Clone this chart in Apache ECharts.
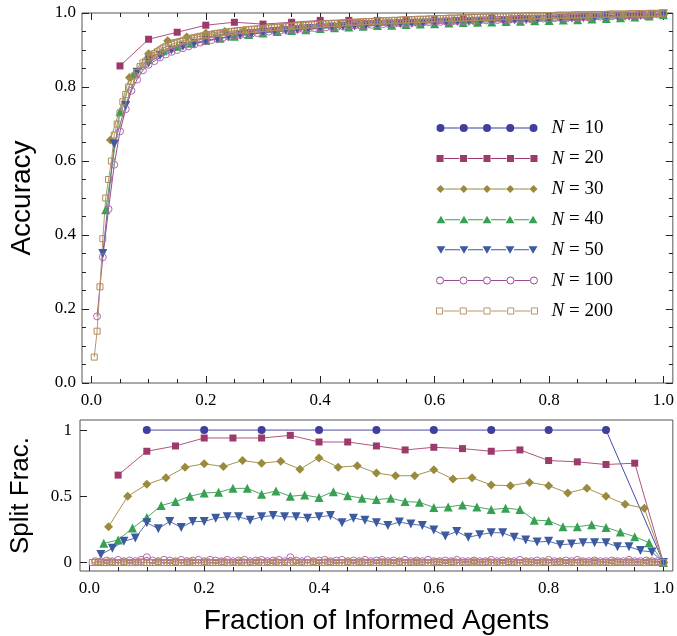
<!DOCTYPE html>
<html>
<head>
<meta charset="utf-8">
<script src="https://cdn.jsdelivr.net/npm/echarts@6/dist/echarts.min.js"></script>
<style>
html, body { margin: 0; padding: 0; background: #fff; }
#chart { width: 677px; height: 636px; }
</style>
</head>
<body>
<div id="chart"></div>
<script>
// group sizes, one series per N, x = k / N
const sizes = [10, 20, 30, 40, 50, 100, 200];
const names = ['N = 10', 'N = 20', 'N = 30', 'N = 40', 'N = 50', 'N = 100', 'N = 200'];

const xLabels = [0, 0.2, 0.4, 0.6, 0.8, 1];
const xMinor = [0, 0.05, 0.1, 0.15, 0.2, 0.25, 0.3, 0.35, 0.4, 0.45, 0.5, 0.55, 0.6, 0.65, 0.7, 0.75, 0.8, 0.85, 0.9, 0.95, 1];
const splitLabels = [0, 0.5, 1];

// accuracy (top panel)
const acc10 = [0.88, 0.935, 0.955, 0.966, 0.975, 0.98, 0.985, 0.99, 0.993, 0.997];
const acc20 = [0.857, 0.929, 0.948, 0.967, 0.975, 0.97, 0.975, 0.98, 0.98, 0.98, 0.981, 0.982, 0.984, 0.985, 0.986, 0.985, 0.988, 0.99, 0.993, 0.997];
const acc30 = [0.657, 0.826, 0.89, 0.925, 0.935, 0.945, 0.95, 0.953, 0.957, 0.96,
  0.962, 0.966, 0.968, 0.97, 0.972, 0.974, 0.975, 0.977, 0.979, 0.98,
  0.982, 0.983, 0.984, 0.986, 0.987, 0.989, 0.99, 0.992, 0.994, 0.997];
const acc40 = [0.468, 0.733, 0.837, 0.875, 0.898, 0.91, 0.918, 0.926, 0.932, 0.937,
  0.942, 0.946, 0.95, 0.953, 0.955, 0.958, 0.96, 0.962, 0.964, 0.966,
  0.967, 0.969, 0.97, 0.971, 0.973, 0.974, 0.975, 0.976, 0.977, 0.978,
  0.979, 0.98, 0.981, 0.982, 0.984, 0.985, 0.987, 0.989, 0.992, 0.995];
const acc50 = [0.35, 0.646, 0.75, 0.84, 0.865, 0.885, 0.9, 0.91, 0.918, 0.925,
  0.93, 0.935, 0.94, 0.943, 0.947, 0.95, 0.953, 0.955, 0.958, 0.96,
  0.962, 0.964, 0.965, 0.967, 0.968, 0.97, 0.971, 0.972, 0.973, 0.975,
  0.976, 0.977, 0.977, 0.978, 0.979, 0.98, 0.981, 0.982, 0.983, 0.984,
  0.985, 0.986, 0.987, 0.988, 0.989, 0.99, 0.991, 0.993, 0.995, 0.997];
const acc100 = [0.18, 0.34, 0.47, 0.59, 0.68, 0.74, 0.79, 0.82, 0.845, 0.86,
  0.87, 0.88, 0.888, 0.895, 0.9, 0.905, 0.91, 0.915, 0.92, 0.924,
  0.927, 0.93, 0.933, 0.936, 0.938, 0.94, 0.942, 0.944, 0.946, 0.948,
  0.95, 0.951, 0.952, 0.954, 0.955, 0.956, 0.957, 0.958, 0.959, 0.96,
  0.961, 0.962, 0.963, 0.964, 0.965, 0.966, 0.966, 0.967, 0.968, 0.969,
  0.97, 0.97, 0.971, 0.972, 0.972, 0.973, 0.974, 0.974, 0.975, 0.976,
  0.976, 0.977, 0.977, 0.978, 0.978, 0.979, 0.979, 0.98, 0.98, 0.981,
  0.981, 0.982, 0.982, 0.983, 0.983, 0.984, 0.984, 0.985, 0.985, 0.986,
  0.986, 0.987, 0.987, 0.988, 0.988, 0.989, 0.989, 0.99, 0.99, 0.991,
  0.991, 0.992, 0.992, 0.993, 0.993, 0.994, 0.994, 0.995, 0.996, 0.997];
const acc200 = [0.07, 0.14, 0.26, 0.39, 0.5, 0.55, 0.6, 0.67, 0.7, 0.73,
  0.76, 0.78, 0.8, 0.815, 0.83, 0.84, 0.855, 0.865, 0.87, 0.88,
  0.885, 0.89, 0.895, 0.9, 0.905, 0.908, 0.912, 0.915, 0.918, 0.92,
  0.923, 0.925, 0.927, 0.93, 0.932, 0.934, 0.935, 0.937, 0.938, 0.94,
  0.941, 0.942, 0.944, 0.945, 0.946, 0.947, 0.948, 0.949, 0.95, 0.951,
  0.952, 0.953, 0.953, 0.954, 0.955, 0.956, 0.956, 0.957, 0.958, 0.958,
  0.959, 0.96, 0.96, 0.961, 0.962, 0.962, 0.963, 0.963, 0.964, 0.965,
  0.965, 0.966, 0.966, 0.967, 0.967, 0.968, 0.968, 0.969, 0.969, 0.97,
  0.97, 0.971, 0.971, 0.972, 0.972, 0.972, 0.973, 0.973, 0.974, 0.974,
  0.975, 0.975, 0.975, 0.976, 0.976, 0.977, 0.977, 0.977, 0.978, 0.978,
  0.978, 0.979, 0.979, 0.979, 0.98, 0.98, 0.98, 0.981, 0.981, 0.981,
  0.982, 0.982, 0.982, 0.983, 0.983, 0.983, 0.983, 0.984, 0.984, 0.984,
  0.985, 0.985, 0.985, 0.985, 0.986, 0.986, 0.986, 0.986, 0.987, 0.987,
  0.987, 0.987, 0.988, 0.988, 0.988, 0.988, 0.989, 0.989, 0.989, 0.989,
  0.989, 0.99, 0.99, 0.99, 0.99, 0.99, 0.991, 0.991, 0.991, 0.991,
  0.991, 0.992, 0.992, 0.992, 0.992, 0.992, 0.993, 0.993, 0.993, 0.993,
  0.993, 0.993, 0.994, 0.994, 0.994, 0.994, 0.994, 0.994, 0.995, 0.995,
  0.995, 0.995, 0.995, 0.995, 0.996, 0.996, 0.996, 0.996, 0.996, 0.996,
  0.997, 0.997, 0.997, 0.997, 0.997, 0.997, 0.997, 0.998, 0.998, 0.998,
  0.998, 0.998, 0.998, 0.998, 0.999, 0.999, 0.999, 0.999, 0.999, 1.0];

// split fraction (bottom panel)
const split10 = [1, 1, 1, 1, 1, 1, 1, 1, 1, 0];
const split20 = [0.66, 0.84, 0.88, 0.94, 0.94, 0.94, 0.96, 0.91, 0.91, 0.88, 0.85, 0.87, 0.86, 0.84, 0.85, 0.77, 0.76, 0.74, 0.75, 0];
const split30 = [0.27, 0.5, 0.59, 0.64, 0.72, 0.745, 0.725, 0.77, 0.75, 0.765,
  0.705, 0.79, 0.72, 0.73, 0.675, 0.655, 0.655, 0.7, 0.63, 0.64,
  0.585, 0.58, 0.605, 0.58, 0.525, 0.56, 0.5, 0.44, 0.41, 0];
const split40 = [0.145, 0.17, 0.26, 0.34, 0.43, 0.46, 0.5, 0.525, 0.53, 0.56,
  0.56, 0.515, 0.54, 0.5, 0.51, 0.49, 0.535, 0.505, 0.485, 0.475,
  0.485, 0.46, 0.455, 0.415, 0.42, 0.435, 0.42, 0.4, 0.41, 0.4,
  0.32, 0.315, 0.27, 0.27, 0.285, 0.265, 0.23, 0.195, 0.15, 0];
const split50 = [0.06, 0.107, 0.16, 0.185, 0.3, 0.255, 0.31, 0.265, 0.31, 0.31,
  0.335, 0.345, 0.345, 0.32, 0.345, 0.355, 0.345, 0.345, 0.335, 0.345,
  0.355, 0.3, 0.335, 0.32, 0.3, 0.28, 0.305, 0.29, 0.28, 0.245,
  0.2, 0.235, 0.19, 0.21, 0.225, 0.225, 0.19, 0.17, 0.155, 0.16,
  0.135, 0.14, 0.15, 0.15, 0.15, 0.12, 0.12, 0.09, 0.08, 0];
const split100 = [0.01, 0.01, 0.015, 0.01, 0.02, 0.01, 0.015, 0.01, 0.02, 0.04,
  0.015, 0.01, 0.02, 0.015, 0.01, 0.02, 0.01, 0.015, 0.02, 0.01,
  0.02, 0.015, 0.01, 0.02, 0.01, 0.015, 0.02, 0.01, 0.015, 0.02,
  0.01, 0.015, 0.02, 0.01, 0.04, 0.015, 0.01, 0.02, 0.01, 0.015,
  0.02, 0.01, 0.015, 0.02, 0.01, 0.015, 0.01, 0.02, 0.01, 0.015,
  0.02, 0.01, 0.015, 0.01, 0.02, 0.01, 0.015, 0.01, 0.02, 0.01,
  0.01, 0.015, 0.01, 0.02, 0.01, 0.01, 0.015, 0.01, 0.01, 0.02,
  0.01, 0.015, 0.01, 0.01, 0.02, 0.01, 0.01, 0.015, 0.01, 0.02,
  0.01, 0.01, 0.015, 0.01, 0.02, 0.01, 0.01, 0.015, 0.01, 0.01,
  0.015, 0.01, 0.01, 0.02, 0.01, 0.01, 0.015, 0.01, 0.01, 0];
const split200 = [0, 0, 0.005, 0, 0, 0, 0.005, 0, 0, 0,
  0, 0.005, 0, 0, 0, 0, 0, 0.005, 0, 0,
  0, 0, 0, 0.005, 0, 0, 0, 0, 0, 0.005,
  0, 0, 0, 0, 0.005, 0, 0, 0, 0, 0,
  0.005, 0, 0, 0, 0, 0, 0.005, 0, 0, 0,
  0, 0, 0.005, 0, 0, 0, 0, 0, 0.005, 0,
  0, 0, 0, 0, 0.005, 0, 0, 0, 0, 0,
  0.005, 0, 0, 0, 0, 0, 0, 0.005, 0, 0,
  0, 0, 0.005, 0, 0, 0, 0, 0, 0, 0.005,
  0, 0, 0, 0, 0.005, 0, 0, 0, 0, 0,
  0, 0.005, 0, 0, 0, 0, 0, 0.005, 0, 0,
  0, 0, 0, 0.005, 0, 0, 0, 0, 0, 0,
  0.005, 0, 0, 0, 0, 0, 0.005, 0, 0, 0,
  0, 0, 0, 0.005, 0, 0, 0, 0, 0.005, 0,
  0, 0, 0, 0, 0, 0.005, 0, 0, 0, 0,
  0, 0.005, 0, 0, 0, 0, 0, 0, 0.005, 0,
  0, 0, 0, 0.005, 0, 0, 0, 0, 0, 0,
  0.005, 0, 0, 0, 0, 0.005, 0, 0, 0, 0,
  0, 0, 0.005, 0, 0, 0, 0, 0.005, 0, 0,
  0, 0, 0, 0, 0.005, 0, 0, 0, 0, 0];

const accuracy = [acc10, acc20, acc30, acc40, acc50, acc100, acc200];
const split = [split10, split20, split30, split40, split50, split100, split200];

const colors = ['#3f3f9e', '#9b3a6b', '#9a8a3c', '#38a052', '#3d5aa0', '#b366b0', '#b08b5c'];
const lineColors = ['#4a4aa8', '#b0557f', '#a4954c', '#4aa862', '#5570ac', '#9a4a95', '#b8956a'];
const symbols = ['circle', 'rect', 'diamond', 'triangle', 'triangle', 'circle', 'rect'];
const symbolRot = [0, 0, 0, 0, 180, 0, 0];
const symbolSizes = [8, 7, 9, 9, 9, 7, 6];
const hollow = [false, false, false, false, false, true, true];
const markerKind = ['circle', 'rect', 'diamond', 'up', 'down', 'circle', 'rect'];

const serif = 'Liberation Serif';
const sans = 'Liberation Sans';
const xRange = [-0.0164, 1.0164];

function pairs(n, vals) {
    return vals.map((v, i) => [(i + 1) / n, v]);
}

// legend icon: line with five markers
const centers = [4, 27.25, 50.5, 73.75, 97];
function shape(kind, c, h) {
    if (kind === 'circle') {
        const r = h ? 3.5 : 4;
        return 'M' + (c - r) + ' 5A' + r + ' ' + r + ' 0 1 1 ' + (c + r) + ' 5A' + r + ' ' + r + ' 0 1 1 ' + (c - r) + ' 5Z';
    }
    if (kind === 'rect') {
        const s = h ? 3 : 3.5;
        return 'M' + (c - s) + ' ' + (5 - s) + 'H' + (c + s) + 'V' + (5 + s) + 'H' + (c - s) + 'Z';
    }
    if (kind === 'diamond') return 'M' + c + ' 1L' + (c + 4) + ' 5L' + c + ' 9L' + (c - 4) + ' 5Z';
    if (kind === 'up') return 'M' + c + ' 1L' + (c + 4.5) + ' 8.5H' + (c - 4.5) + 'Z';
    return 'M' + (c - 4.5) + ' 1.5H' + (c + 4.5) + 'L' + c + ' 9Z';
}
function iconPath(kind, h) {
    let p = '';
    for (let i = 0; i < 4; i++) {
        const a = centers[i] + 4, b = centers[i + 1] - 4;
        p += h ? 'M' + a + ' 5L' + b + ' 5' : 'M' + a + ' 4.5H' + b + 'V5.5H' + a + 'Z';
    }
    centers.forEach(c => { p += shape(kind, c, h); });
    return 'path://' + p;
}

function xAx(grid, pos, ticks, len, labels, extra) {
    return Object.assign({
        type: 'value', gridIndex: grid, position: pos,
        min: xRange[0], max: xRange[1],
        axisLine: { show: false, onZero: false },
        splitLine: { show: false },
        axisTick: { show: true, inside: true, length: len, customValues: ticks, lineStyle: { color: '#222' } },
        axisLabel: labels ? {
            show: true, customValues: xLabels, formatter: v => v.toFixed(1),
            margin: 9, fontFamily: serif, fontSize: 17, color: '#000'
        } : { show: false }
    }, extra || {});
}

function makeSeries(i, vals, bottom) {
    return {
        type: 'line', name: names[i],
        data: pairs(sizes[i], vals),
        xAxisIndex: bottom ? 4 : 0, yAxisIndex: bottom ? 2 : 0,
        symbol: symbols[i], symbolSize: symbolSizes[i], symbolRotate: symbolRot[i],
        showAllSymbol: true,
        itemStyle: hollow[i]
            ? { color: 'rgba(0,0,0,0)', borderColor: colors[i], borderWidth: 1 }
            : { color: colors[i] },
        lineStyle: { color: lineColors[i], width: 1 },
        emphasis: { disabled: true },
        silent: true
    };
}

const chart = echarts.init(document.getElementById('chart'));
const series = [];
accuracy.forEach((vals, i) => series.push(makeSeries(i, vals, false)));
split.forEach((vals, i) => series.push(makeSeries(i, vals, true)));

const option = {
    animation: false,
    backgroundColor: '#fff',
    grid: [
        { left: 77, top: 13, width: 598, height: 370, show: true, borderColor: '#555', borderWidth: 1, backgroundColor: 'transparent' },
        { left: 77, top: 420, width: 598, height: 151, show: true, borderColor: '#555', borderWidth: 1, backgroundColor: 'transparent' }
    ],
    legend: {
        orient: 'vertical', left: 429, top: 113,
        itemWidth: 101, itemHeight: 10, itemGap: 10.5,
        selectedMode: false,
        data: names.map((nm, i) => ({
            name: nm,
            icon: iconPath(markerKind[i], hollow[i]),
            itemStyle: hollow[i]
                ? { color: 'none', borderColor: lineColors[i], borderWidth: 1 }
                : { color: colors[i], borderWidth: 0 }
        })),
        formatter: nm => '{i|N}' + nm.slice(1),
        textStyle: {
            fontFamily: serif, fontSize: 19, color: '#000', lineHeight: 20,
            padding: [0, 0, 0, 9],
            rich: { i: { fontFamily: serif, fontSize: 19, fontStyle: 'italic', lineHeight: 20 } }
        }
    },
    xAxis: [
        xAx(0, 'bottom', xLabels, 7, true),
        xAx(0, 'bottom', xMinor, 4, false),
        xAx(0, 'top', xLabels, 7, false),
        xAx(0, 'top', xMinor, 4, false),
        xAx(1, 'bottom', xLabels, 7, true, {
            name: 'Fraction of Informed Agents', nameLocation: 'middle', nameGap: 36,
            nameTextStyle: { fontFamily: sans, fontSize: 28, color: '#000' }
        }),
        xAx(1, 'bottom', xMinor, 4, false)
    ],
    yAxis: [
        {
            type: 'value', gridIndex: 0, position: 'left', min: 0, max: 1, interval: 0.2,
            axisLine: { show: false, onZero: false },
            splitLine: { show: false },
            axisTick: { inside: true, length: 7, lineStyle: { color: '#222' } },
            minorTick: { show: true, splitNumber: 4, length: 4, lineStyle: { color: '#222' } },
            axisLabel: { formatter: v => v.toFixed(1), margin: 6, fontFamily: serif, fontSize: 17, color: '#000' },
            name: 'Accuracy', nameLocation: 'middle', nameGap: 46,
            nameTextStyle: { fontFamily: sans, fontSize: 28, color: '#000' }
        },
        {
            type: 'value', gridIndex: 0, position: 'right', min: 0, max: 1, interval: 0.2,
            axisLine: { show: false, onZero: false },
            splitLine: { show: false },
            axisTick: { inside: true, length: 7, lineStyle: { color: '#222' } },
            minorTick: { show: true, splitNumber: 4, length: 4, lineStyle: { color: '#222' } },
            axisLabel: { show: false }
        },
        {
            type: 'value', gridIndex: 1, position: 'left', min: -0.064, max: 1.076,
            axisLine: { show: false, onZero: false },
            splitLine: { show: false },
            axisTick: { inside: true, length: 7, customValues: splitLabels, lineStyle: { color: '#222' } },
            axisLabel: {
                customValues: splitLabels, formatter: v => String(v),
                margin: 8, fontFamily: serif, fontSize: 17, color: '#000'
            },
            name: 'Split Frac.', nameLocation: 'middle', nameGap: 46,
            nameTextStyle: { fontFamily: sans, fontSize: 26, color: '#000' }
        }
    ],
    series: series
};
chart.setOption(option);
</script>
</body>
</html>
